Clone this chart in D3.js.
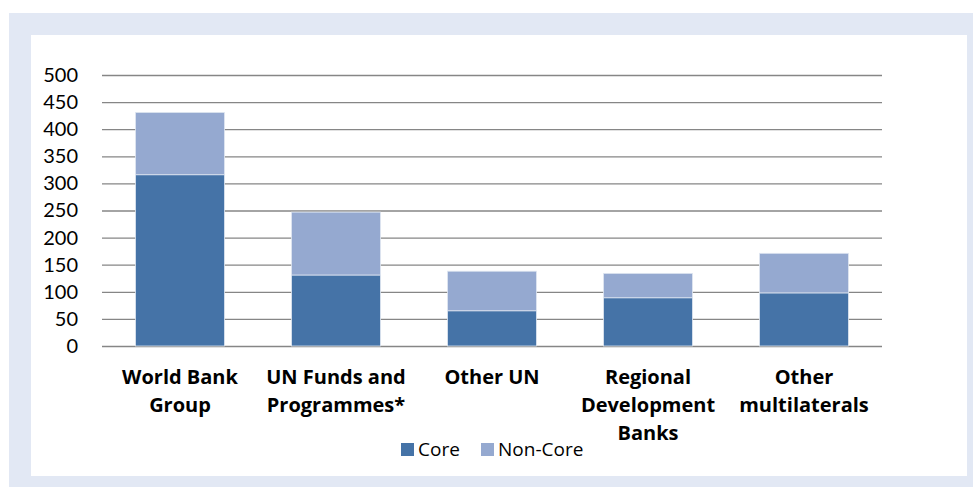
<!DOCTYPE html>
<html><head><meta charset="utf-8">
<script src="https://cdn.jsdelivr.net/npm/d3@7"></script>
<style>html,body{margin:0;padding:0;background:#fff;}svg{display:block;}</style>
</head><body>
<svg id="c" width="973" height="487"></svg>
<script>
const categories = [["World Bank","Group"],["UN Funds and","Programmes*"],["Other UN"],["Regional","Development","Banks"],["Other","multilaterals"]];
const coreValues = [316, 131, 65, 89, 98];
const nonCoreValues = [115, 116, 73, 45, 73];
const seriesNames = ["Core","Non-Core"];
const seriesColors = ["#4573a7","#95a9d0"];
const yTicks = [0,50,100,150,200,250,300,350,400,450,500];

const svg = d3.select("#c");
// frame
svg.append("rect").attr("x",9).attr("y",13).attr("width",964).attr("height",474).attr("fill","#e2e8f4");
svg.append("rect").attr("x",31).attr("y",35).attr("width",936).attr("height",441).attr("fill","#fff");

const x = d3.scaleBand().domain(d3.range(categories.length)).range([102,882]).paddingInner(0.43).paddingOuter(0.215);
const y = d3.scaleLinear().domain([0,500]).range([346,75]);

// gridlines
const gAxis = svg.append("g").attr("transform","translate(102,0)")
  .call(d3.axisLeft(y).tickValues(yTicks).tickSize(-780).tickPadding(24).tickFormat(d3.format("d")));
gAxis.select(".domain").remove();
gAxis.selectAll(".tick line").attr("stroke","#868686").attr("stroke-width",1.3);
gAxis.selectAll(".tick text").attr("font-family","Lato, 'Open Sans', sans-serif").attr("font-size",20).attr("fill","#000");

const stackData = d3.stack().keys([0,1])(categories.map((c,i)=>({0:coreValues[i],1:nonCoreValues[i]})));
stackData.forEach((s,si)=>{
  svg.append("g").selectAll("rect").data(s).join("rect")
    .attr("x",(d,i)=>x(i)).attr("width",x.bandwidth())
    .attr("y",d=>y(d[1])).attr("height",d=>y(d[0])-y(d[1]))
    .attr("fill",seriesColors[si]).attr("stroke","#dfe6f1").attr("stroke-width",0.8);
});

// category labels
const lab = svg.append("g").attr("font-family","'Open Sans', Lato, sans-serif").attr("font-weight","bold").attr("font-size",20).attr("fill","#000").attr("text-anchor","middle");
categories.forEach((lines,i)=>{
  const t = lab.append("text").attr("x",x(i)+x.bandwidth()/2).attr("y",384);
  lines.forEach((l,j)=>t.append("tspan").attr("x",x(i)+x.bandwidth()/2).attr("dy",j===0?0:28).text(l));
});

// legend
const leg = svg.append("g").attr("font-family","'Open Sans', Lato, sans-serif").attr("font-size",19);
const legX = [401, 481];
seriesNames.forEach((n,i)=>{
  leg.append("rect").attr("x",legX[i]).attr("y",443).attr("width",13).attr("height",13).attr("fill",seriesColors[i]);
  leg.append("text").attr("x",legX[i]+17).attr("y",456).text(n).attr("fill","#000");
});
</script>
</body></html>
